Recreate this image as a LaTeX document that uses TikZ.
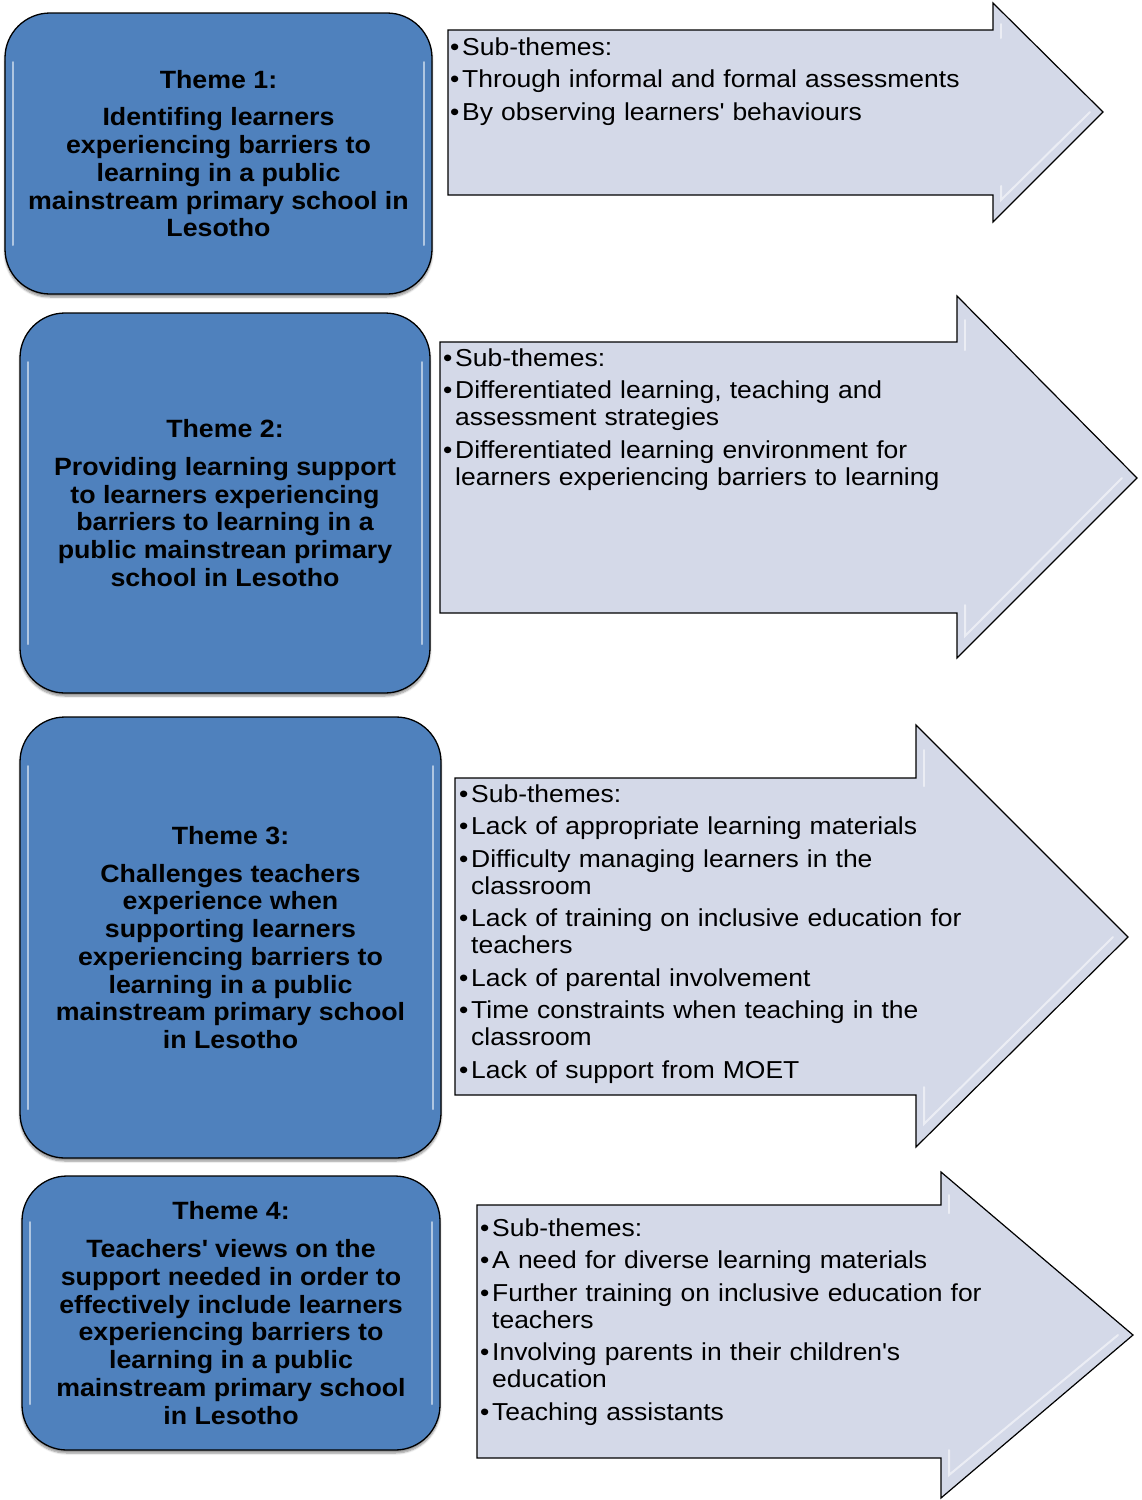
\documentclass[tikz,border=0pt]{standalone}
\usepackage{fontspec}
\setmainfont{Liberation Sans}
\newfontfamily\boxfont[FakeStretch=1.07]{Liberation Sans}
\newfontfamily\subfont[FakeStretch=1.08]{Liberation Sans}
\usetikzlibrary{shadows.blur}
\definecolor{themeblue}{RGB}{79,129,189}
\definecolor{arrowfill}{RGB}{212,217,232}
\newcommand\firstitem[1]{\noindent\hangindent=12pt\hangafter=1\makebox[12pt][l]{\rule{0pt}{20pt}\textbullet}#1}
\newcommand\nextitem[1]{\par\vspace{5.5pt}\firstitem{#1}}
\tikzset{
  themebox/.style={draw=black, line width=1.3pt, fill=themeblue, rounded corners=45pt,
    align=center, inner sep=0pt,
    font=\boxfont\bfseries\fontsize{25}{27.75}\selectfont,
    blur shadow={shadow xshift=0pt, shadow yshift=-3pt, shadow blur steps=6, shadow opacity=45}},
  subarrow/.style={draw=black, line width=1.2pt, fill=arrowfill, line join=miter},
  subtext/.style={anchor=north west, inner sep=0pt, text width=690pt,
    font=\subfont\fontsize{24.5}{27}\selectfont},
  glint/.style={white, line width=2pt, opacity=0.55, line cap=round}
}
\begin{document}
\begin{tikzpicture}[x=1pt, y=-1pt]
\useasboundingbox (0,0) rectangle (1142,1500);

% ---------- arrows ----------
\draw[subarrow] (448,30) -- (993,30) -- (993,3) -- (1103,112) -- (993,222) -- (993,195) -- (448,195) -- cycle;
\draw[subarrow] (440,342) -- (957,342) -- (957,296) -- (1137,478) -- (957,658) -- (957,613) -- (440,613) -- cycle;
\draw[subarrow] (455,778) -- (916,778) -- (916,725) -- (1128,937) -- (916,1147) -- (916,1095) -- (455,1095) -- cycle;
\draw[subarrow] (477,1205) -- (941,1205) -- (941,1172) -- (1133,1335) -- (941,1498) -- (941,1458) -- (477,1458) -- cycle;

% arrow head glints
\draw[glint] (1001,24) -- (1001,38);
\draw[glint] (1001,186) -- (1001,200) -- (1090,112);
\draw[glint] (965,320) -- (965,350);
\draw[glint] (965,605) -- (965,636) -- (1122,478);
\draw[glint] (924,750) -- (924,786);
\draw[glint] (924,1087) -- (924,1124) -- (1113,937);
\draw[glint] (949,1195) -- (949,1213);
\draw[glint] (949,1450) -- (949,1475) -- (1118,1335);

% ---------- theme boxes ----------
\node[themebox, minimum width=427pt, minimum height=281pt] (t1) at (218.5,153.5)
  {Theme 1:\\[10pt]Identifing learners\\experiencing barriers to\\learning in a public\\mainstream primary school in\\Lesotho};
\node[themebox, minimum width=410pt, minimum height=380pt] (t2) at (225,503)
  {Theme 2:\\[10pt]Providing learning support\\to learners experiencing\\barriers to learning in a\\public mainstrean primary\\school in Lesotho};
\node[themebox, minimum width=421pt, minimum height=441pt] (t3) at (230.5,937.5)
  {Theme 3:\\[10pt]Challenges teachers\\experience when\\supporting learners\\experiencing barriers to\\learning in a public\\mainstream primary school\\in Lesotho};
\node[themebox, minimum width=418pt, minimum height=274pt] (t4) at (231,1313)
  {Theme 4:\\[10pt]Teachers\textquotesingle{} views on the\\support needed in order to\\effectively include learners\\experiencing barriers to\\learning in a public\\mainstream primary school\\in Lesotho};

% box glints
\draw[glint] (13,62) -- (13,245);   \draw[glint] (424,62) -- (424,245);
\draw[glint] (28,362) -- (28,644);  \draw[glint] (422,362) -- (422,644);
\draw[glint] (28,766) -- (28,1109); \draw[glint] (433,766) -- (433,1109);
\draw[glint] (30,1222) -- (30,1404);\draw[glint] (432,1222) -- (432,1404);

% ---------- sub-theme texts ----------
\node[subtext] (s1) at (450,35) {\raggedright
  \firstitem{Sub-themes:}
  \nextitem{Through informal and formal assessments}
  \nextitem{By observing learners\textquotesingle{} behaviours}\par};
\node[subtext] (s2) at (443,346) {\raggedright
  \firstitem{Sub-themes:}
  \nextitem{Differentiated learning, teaching and\newline assessment strategies}
  \nextitem{Differentiated learning environment for\newline learners experiencing barriers to learning}\par};
\node[subtext] (s3) at (459,782) {\raggedright
  \firstitem{Sub-themes:}
  \nextitem{Lack of appropriate learning materials}
  \nextitem{Difficulty managing learners in the\newline classroom}
  \nextitem{Lack of training on inclusive education for\newline teachers}
  \nextitem{Lack of parental involvement}
  \nextitem{Time constraints when teaching in the\newline classroom}
  \nextitem{Lack of support from MOET}\par};
\node[subtext] (s4) at (480,1216) {\raggedright
  \firstitem{Sub-themes:}
  \nextitem{A need for diverse learning materials}
  \nextitem{Further training on inclusive education for\newline teachers}
  \nextitem{Involving parents in their children\textquotesingle{}s\newline education}
  \nextitem{Teaching assistants}\par};
\end{tikzpicture}
\end{document}
